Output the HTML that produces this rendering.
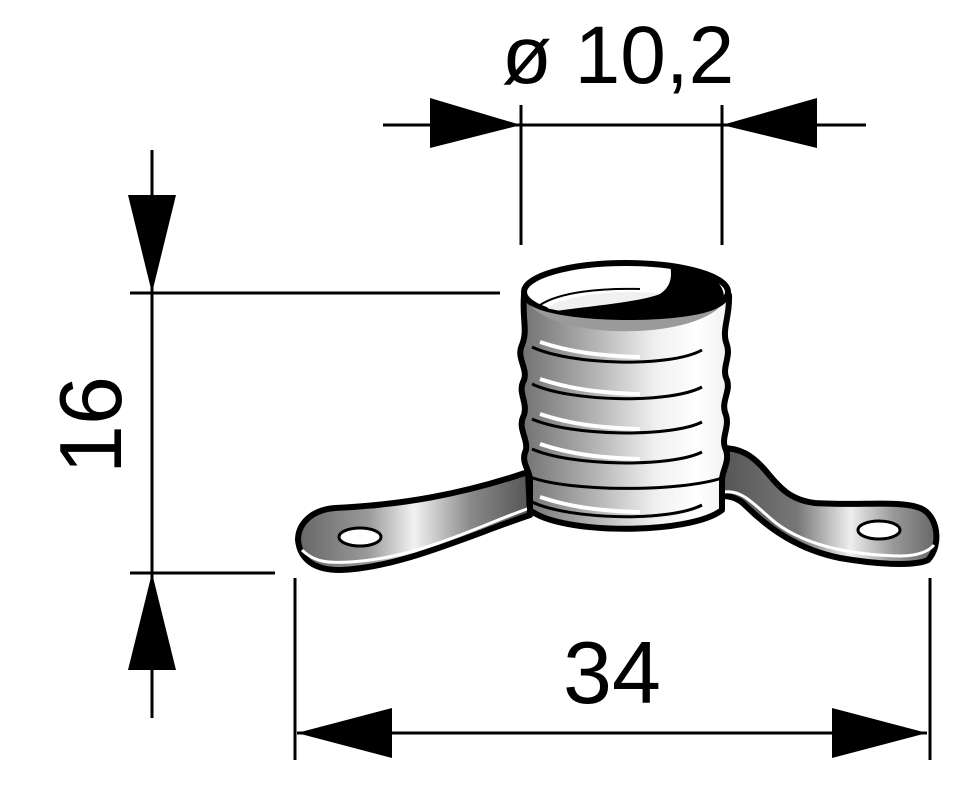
<!DOCTYPE html>
<html><head><meta charset="utf-8">
<style>html,body{margin:0;padding:0;background:#fff;}svg{display:block;}</style>
</head><body>
<svg width="975" height="799" viewBox="0 0 975 799" xmlns="http://www.w3.org/2000/svg">
<defs>
<linearGradient id="cyl" x1="0" x2="1" y1="0" y2="0">
<stop offset="0" stop-color="#707070"/><stop offset="0.3" stop-color="#a8a8a8"/>
<stop offset="0.65" stop-color="#f0f0f0"/><stop offset="0.85" stop-color="#ffffff"/><stop offset="1" stop-color="#f0f0f0"/>
</linearGradient>
<linearGradient id="flL" x1="0" x2="1" y1="0" y2="0">
<stop offset="0" stop-color="#666"/><stop offset="0.3" stop-color="#999"/><stop offset="0.5" stop-color="#f2f2f2"/><stop offset="0.75" stop-color="#888"/><stop offset="1" stop-color="#555"/>
</linearGradient>
<linearGradient id="flR" x1="0" x2="1" y1="0" y2="0">
<stop offset="0" stop-color="#555"/><stop offset="0.35" stop-color="#777"/><stop offset="0.6" stop-color="#eee"/><stop offset="0.8" stop-color="#999"/><stop offset="1" stop-color="#666"/>
</linearGradient>
</defs>
<g stroke="#000" stroke-width="3" fill="none">
<line x1="383" y1="125" x2="866" y2="125"/>
<line x1="521" y1="105" x2="521" y2="245"/>
<line x1="722" y1="105" x2="722" y2="245"/>
<line x1="152" y1="150" x2="152" y2="718"/>
<line x1="130" y1="293" x2="500" y2="293"/>
<line x1="130" y1="573" x2="275" y2="573"/>
<line x1="297" y1="733" x2="927" y2="733"/>
<line x1="295" y1="578" x2="295" y2="760"/>
<line x1="930" y1="578" x2="930" y2="760"/>
</g>
<g fill="#000">
<polygon points="430,98 521,125 430,148"/>
<polygon points="817,98 722,125 817,148"/>
<polygon points="128,195 176,195 152,293"/>
<polygon points="128,670 176,670 152,573"/>
<polygon points="392,708 297,733 392,758"/>
<polygon points="832,708 927,733 832,758"/>
</g>
<g font-family="Liberation Sans, sans-serif" fill="#000">
<text x="618" y="83" font-size="82" text-anchor="middle">ø 10,2</text>
<text x="612" y="703" font-size="88" text-anchor="middle">34</text>
<text transform="translate(121,425) rotate(-90)" font-size="88" text-anchor="middle">16</text>
</g>
<path d="M528,472 C460,495 400,505 335,508 C310,510 298,525 298,540 C300,560 315,570 340,570 C400,568 470,535 530,515 Z" fill="url(#flL)" stroke="#000" stroke-width="6" stroke-linejoin="round"/>
<path d="M302,550 C315,563 330,563 350,562 C420,558 480,525 530,508" fill="none" stroke="#fff" stroke-width="3"/>
<path d="M722,448 C740,448 752,455 765,470 C780,488 790,500 815,503 C860,506 900,500 920,508 C938,515 942,545 928,560 C915,566 880,565 840,558 C800,550 770,530 745,505 C738,498 730,496 722,496 Z" fill="url(#flR)" stroke="#000" stroke-width="6" stroke-linejoin="round"/>
<path d="M724,492 C740,490 750,500 770,518 C800,545 850,555 900,556 C920,556 930,550 934,545" fill="none" stroke="#fff" stroke-width="3"/>
<ellipse cx="360" cy="537" rx="21" ry="9" fill="#fff" stroke="#000" stroke-width="3"/>
<ellipse cx="879" cy="530" rx="21" ry="9" fill="#fff" stroke="#000" stroke-width="3"/>
<path d="M524,295 C522,320 528,330 522,345 C516,358 528,368 524,380 C517,392 528,402 524,415 C517,428 528,438 526,450 C520,462 530,470 530,480 L530,510 C560,535 690,535 722,510 L722,480 C722,470 730,462 726,450 C720,438 730,428 726,415 C720,402 731,392 727,380 C721,368 731,358 727,345 C721,330 730,318 729,295 Z" fill="url(#cyl)" stroke="#000" stroke-width="6" stroke-linejoin="round"/>
<g stroke="#000" stroke-width="3" fill="none">
<path d="M532,347 C570,365 670,368 702,350"/>
<path d="M532,384 C570,402 670,404 702,387"/>
<path d="M532,419 C570,436 670,438 702,422"/>
<path d="M532,449 C570,466 670,468 702,452"/>
<path d="M530,477 C570,492 680,492 722,478"/>
<path d="M532,502 C570,520 670,522 702,505"/>
</g>
<g stroke="#fff" stroke-width="4" fill="none">
<path d="M540,342 C570,352 600,356 640,357"/>
<path d="M540,379 C570,389 600,393 640,394"/>
<path d="M540,414 C570,424 600,428 640,429"/>
<path d="M540,444 C570,454 600,458 640,459"/>
<path d="M540,497 C570,507 600,511 640,512"/>
</g>
<ellipse cx="626" cy="292" rx="102" ry="29" fill="#fff" stroke="#000" stroke-width="6"/>
<path d="M530,305 C560,340 690,340 722,305 C700,325 560,325 530,305 Z" fill="#9a9a9a"/>
<path d="M547,308 C575,290 650,287 700,300 C690,315 580,318 547,308 Z" fill="#f0f0f0"/>
<path d="M548,312 C590,306 640,302 660,294 C672,286 672,275 670,264 C705,266 726,282 724,300 C705,318 620,324 548,312 Z" fill="#000"/>
<path d="M540,305 C560,292 600,288 640,289" fill="none" stroke="#000" stroke-width="2"/>
</svg>
</body></html>
